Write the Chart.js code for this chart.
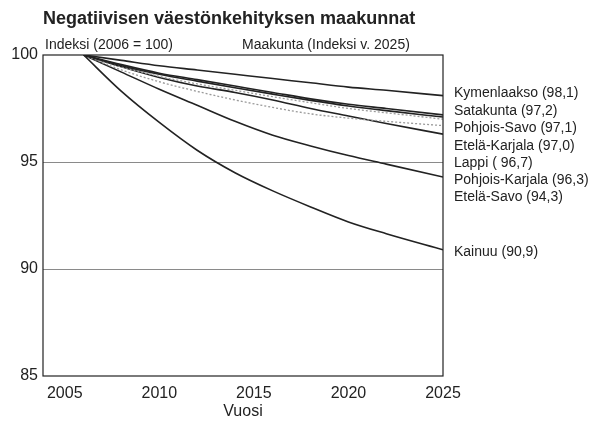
<!DOCTYPE html>
<html>
<head>
<meta charset="utf-8">
<script src="https://cdn.jsdelivr.net/npm/chart.js@4"></script>
<style>
html,body{margin:0;padding:0;background:#fff;}
#wrap{width:596px;height:425px;position:relative;}
</style>
</head>
<body>
<div id="wrap"><canvas id="c" width="596" height="425"></canvas></div>
<script>
// ---- data ----
const years = [2006, 2008, 2010, 2012, 2014, 2016, 2018, 2020, 2022, 2025];
const kymenlaakso   = [100, 99.75, 99.5, 99.3, 99.1, 98.9, 98.7, 98.5, 98.35, 98.1];
const satakunta     = [100, 99.55, 99.15, 98.85, 98.55, 98.25, 97.95, 97.7, 97.5, 97.2];
const pohjoisSavo   = [100, 99.5, 99.1, 98.78, 98.47, 98.17, 97.88, 97.62, 97.4, 97.1];
const etelaKarjala  = [100, 99.45, 99.0, 98.65, 98.35, 98.05, 97.77, 97.5, 97.3, 97.0];
const lappi         = [100, 99.3, 98.75, 98.3, 97.9, 97.55, 97.25, 97.05, 96.9, 96.7];
const pohjoisKarjala= [100, 99.45, 98.95, 98.55, 98.25, 97.9, 97.5, 97.15, 96.8, 96.3];
const etelaSavo     = [100, 99.2, 98.4, 97.65, 96.9, 96.25, 95.75, 95.3, 94.9, 94.3];
const kainuu        = [100, 98.3, 96.85, 95.55, 94.5, 93.65, 92.9, 92.2, 91.65, 90.9];

const xTicks = [2005, 2010, 2015, 2020, 2025];
const yTicks = [85, 90, 95, 100];
const legendLabels = [
  "Kymenlaakso (98,1)",
  "Satakunta (97,2)",
  "Pohjois-Savo (97,1)",
  "Etelä-Karjala (97,0)",
  "Lappi ( 96,7)",
  "Pohjois-Karjala (96,3)",
  "Etelä-Savo (94,3)",
  "Kainuu (90,9)"
];
const titleText = "Negatiivisen väestönkehityksen maakunnat";
const leftNote = "Indeksi (2006 = 100)";
const rightNote = "Maakunta (Indeksi v. 2025)";
const xTitle = "Vuosi";

// ---- chart ----
const FONT = "'Liberation Sans', Arial, sans-serif";
const INK = '#222';
const pts = arr => arr.map((v, i) => ({x: years[i], y: v}));
const solid = (label, arr) => ({label, data: pts(arr), borderColor: INK, borderWidth: 1.6,
  pointRadius: 0, cubicInterpolationMode: 'monotone', fill: false});
const dotted = (label, arr) => ({label, data: pts(arr), borderColor: '#9a9a9a', borderWidth: 1.3,
  borderDash: [2, 2], pointRadius: 0, cubicInterpolationMode: 'monotone', fill: false});

const overlay = {
  id: 'overlay',
  afterDraw(chart) {
    const ctx = chart.ctx;
    const a = chart.chartArea;
    ctx.save();
    ctx.fillStyle = INK;
    ctx.textAlign = 'left';
    ctx.textBaseline = 'alphabetic';
    ctx.font = 'bold 18px ' + FONT;
    ctx.fillText(titleText, a.left, 24);
    ctx.font = '14px ' + FONT;
    ctx.fillText(leftNote, a.left + 2, 49);
    ctx.fillText(rightNote, 242, 49);
    // right side labels
    ctx.font = '14px ' + FONT;
    ctx.textBaseline = 'middle';
    const labelY = [93, 111, 128, 146, 163, 180, 197, 252];
    legendLabels.forEach((t, i) => ctx.fillText(t, a.right + 11, labelY[i]));
    // frame
    ctx.strokeStyle = INK;
    ctx.lineWidth = 1.2;
    ctx.strokeRect(a.left, a.top, a.right - a.left, a.bottom - a.top);
    ctx.restore();
  }
};

new Chart(document.getElementById('c'), {
  type: 'line',
  data: {
    datasets: [
      solid('Kymenlaakso', kymenlaakso),
      solid('Satakunta', satakunta),
      solid('Pohjois-Savo', pohjoisSavo),
      dotted('Etelä-Karjala', etelaKarjala),
      dotted('Lappi', lappi),
      solid('Pohjois-Karjala', pohjoisKarjala),
      solid('Etelä-Savo', etelaSavo),
      solid('Kainuu', kainuu)
    ]
  },
  options: {
    responsive: false,
    animation: false,
    layout: {padding: {top: 55, right: 153, left: 0, bottom: 0}},
    plugins: {legend: {display: false}, tooltip: {enabled: false}},
    scales: {
      x: {
        type: 'linear', min: 2003.85, max: 2025,
        afterBuildTicks: s => { s.ticks = xTicks.map(v => ({value: v})); },
        afterFit: s => { s.height = 49; },
        grid: {display: false, drawTicks: false},
        border: {display: false},
        ticks: {color: INK, font: {family: FONT, size: 16}, padding: 8, maxRotation: 0,
          callback: v => String(v)},
        title: {display: true, text: xTitle, color: INK, font: {family: FONT, size: 16},
          padding: {top: 0, bottom: 4}}
      },
      y: {
        min: 85, max: 100,
        afterBuildTicks: s => { s.ticks = yTicks.map(v => ({value: v})); },
        afterFit: s => { s.width = 43; },
        grid: {drawTicks: false, lineWidth: 1,
          color: c => (c.tick && (c.tick.value === 90 || c.tick.value === 95)) ? '#8a8a8a' : 'rgba(0,0,0,0)'},
        border: {display: false},
        ticks: {color: INK, font: {family: FONT, size: 16}, padding: 5, callback: v => String(v)}
      }
    }
  },
  plugins: [overlay]
});
</script>
</body>
</html>
